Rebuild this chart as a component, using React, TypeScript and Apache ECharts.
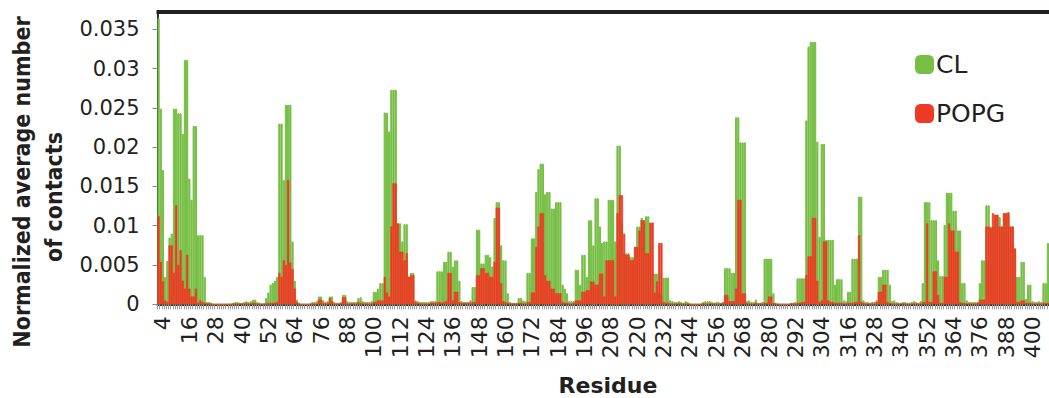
import React, { useEffect, useRef } from "react";
import * as echarts from "echarts";

// Residue numbering of the first bar
const firstResidue = 2;
// Tick labels: every 12th residue, starting at residue 4 (4, 16, ..., 400)
const labelStart = 4;
const labelStep = 12;
const yTicks = [0, 0.005, 0.01, 0.015, 0.02, 0.025, 0.03, 0.035];

// CL (green) normalized average number of contacts, residues 2..407
const clValues = [
  0.0364, 0.0249, 0.0171, 0.0035, 0.0055, 0.0085, 0.009, 0.0249, 0.0249, 0.0243,
  0.0243, 0.0217, 0.0311, 0.0311, 0.016, 0.0133, 0.0227, 0.0227, 0.0088, 0.0088,
  0.0088, 0.0035, 0.0003, 0.0003, 0.0002, 0, 0, 0, 0, 0,
  0, 0, 0, 0.0001, 0.0002, 0.0003, 0.0003, 0.0002, 0.0002, 0.0003,
  0.0004, 0.0003, 0.0004, 0.0006, 0.0006, 0.0003, 0.0002, 0.0001, 0.0002, 0.0008,
  0.0015, 0.0025, 0.0027, 0.003, 0.0035, 0.023, 0.023, 0.0158, 0.0254, 0.0254,
  0.0254, 0.008, 0.003, 0.0006, 0.0002, 0, 0, 0, 0, 0.0001,
  0.0003, 0.0003, 0.0004, 0.001, 0.001, 0.0005, 0.0003, 0.0004, 0.001, 0.001,
  0.0003, 0.0002, 0.0002, 0.0003, 0.0012, 0.0012, 0.0004, 0.0003, 0.0003, 0.0003,
  0.0003, 0.0008, 0.0009, 0.0004, 0.0003, 0.0003, 0.0003, 0.0004, 0.0016, 0.0016,
  0.002, 0.0027, 0.0027, 0.0244, 0.0244, 0.022, 0.0273, 0.0273, 0.0273, 0.0103,
  0.0103, 0.008, 0.0102, 0.0102, 0.0035, 0.004, 0.004, 0.0005, 0.0004, 0.0003,
  0.0003, 0.0003, 0.0003, 0.0003, 0.0004, 0.0004, 0.0004, 0.0042, 0.0042, 0.0042,
  0.0054, 0.0054, 0.0067, 0.0067, 0.0048, 0.0056, 0.0056, 0.003, 0.0004, 0.0003,
  0.0003, 0.0003, 0.0005, 0.0022, 0.0022, 0.0095, 0.0095, 0.0052, 0.0052, 0.0063,
  0.0063, 0.006, 0.0048, 0.011, 0.013, 0.013, 0.0075, 0.0056, 0.0056, 0.0014,
  0.0003, 0.0002, 0.0002, 0.0002, 0.0008, 0.0008, 0.0005, 0.0004, 0.004, 0.004,
  0.0084, 0.0084, 0.0143, 0.0172, 0.0179, 0.0179, 0.014, 0.0143, 0.0143, 0.0122,
  0.0122, 0.013, 0.013, 0.013, 0.0025, 0.002, 0.0014, 0.0004, 0.0004, 0.0004,
  0.0044, 0.0044, 0.0025, 0.0063, 0.0063, 0.0035, 0.0107, 0.0107, 0.0075, 0.0135,
  0.0135, 0.0099, 0.0078, 0.008, 0.008, 0.0133, 0.0133, 0.0133, 0.008, 0.0202,
  0.0202, 0.0103, 0.0065, 0.0065, 0.0065, 0.006, 0.006, 0.0073, 0.0099, 0.0099,
  0.011, 0.0105, 0.0112, 0.0112, 0.0103, 0.004, 0.0039, 0.0039, 0.0015, 0.0012,
  0.0034, 0.0034, 0.0034, 0.0005, 0.0004, 0.0003, 0.0003, 0.0004, 0.0003, 0.0002,
  0.0004, 0.0003, 0.0001, 0, 0, 0, 0, 0.0001, 0.0003, 0.0004,
  0.0004, 0.0004, 0.0003, 0.0002, 0.0003, 0.0003, 0.0002, 0.0003, 0.0046, 0.0046,
  0.0046, 0.004, 0.004, 0.0238, 0.0238, 0.0206, 0.0206, 0.0206, 0.0004, 0.0005,
  0.0003, 0.0003, 0.0006, 0.0002, 0.0002, 0.0003, 0.0058, 0.0058, 0.0058, 0.0058,
  0.0014, 0.0002, 0.0001, 0, 0, 0, 0, 0, 0.0002, 0.0002,
  0.0003, 0.0033, 0.0033, 0.0033, 0.0033, 0.0234, 0.0328, 0.0334, 0.0334, 0.0334,
  0.0207, 0.0086, 0.0204, 0.0204, 0.0082, 0.0082, 0.0082, 0.0082, 0.0025, 0.0032,
  0.0032, 0.0032, 0.0005, 0.0004, 0.0016, 0.0016, 0.0058, 0.0058, 0.0058, 0.0137,
  0.0137, 0.0005, 0.0003, 0.0003, 0.0002, 0.0003, 0.0003, 0.0005, 0.0035, 0.0035,
  0.0044, 0.0044, 0.0044, 0.0025, 0.0004, 0.0005, 0.0003, 0.0002, 0.0002, 0.0003,
  0.0003, 0.0002, 0.0002, 0.0003, 0.0004, 0.0003, 0.0002, 0.0004, 0.0027, 0.013,
  0.013, 0.013, 0.0107, 0.0107, 0.0107, 0.0056, 0.0036, 0.0036, 0.0101, 0.0142,
  0.0142, 0.0142, 0.0119, 0.0119, 0.0094, 0.0094, 0.0027, 0.0027, 0.0005, 0.0003,
  0.0003, 0.0003, 0.0003, 0.0003, 0.0027, 0.0056, 0.0056, 0.0126, 0.0126, 0.0099,
  0.0099, 0.0114, 0.0114, 0.0111, 0.0099, 0.0116, 0.0116, 0.0117, 0.0099, 0.0099,
  0.0071, 0.0035, 0.0035, 0.0054, 0.0054, 0.0007, 0.0025, 0.0025, 0.0004, 0.0003,
  0.0003, 0.0004, 0.0003, 0.0027, 0.0027, 0.0078,
];

// POPG (red) normalized average number of contacts, residues 2..407
const popgValues = [
  0.0112, 0.0054, 0.0029, 0.0005, 0.0003, 0.0075, 0.0075, 0.004, 0.0126, 0.005,
  0.0069, 0.003, 0.002, 0.0063, 0.002, 0.001, 0.001, 0.002, 0.0002, 0.0005,
  0.0003, 0.0002, 0.0001, 0.0001, 0.0001, 0, 0, 0, 0, 0,
  0, 0, 0, 0, 0.0001, 0.0001, 0.0001, 0.0001, 0.0001, 0.0001,
  0.0002, 0.0001, 0.0001, 0.0002, 0.0002, 0.0001, 0.0001, 0, 0, 0.0001,
  0.0002, 0.0002, 0.0002, 0.0002, 0.0003, 0.004, 0.0035, 0.0056, 0.005, 0.0158,
  0.0053, 0.0045, 0.002, 0.0003, 0.0001, 0, 0, 0, 0, 0,
  0.0001, 0.0001, 0.0001, 0.0006, 0.0006, 0.0002, 0.0001, 0.0002, 0.0008, 0.0004,
  0.0001, 0.0001, 0.0001, 0.0001, 0.0009, 0.0009, 0.0001, 0.0001, 0.0001, 0.0001,
  0.0001, 0.0003, 0.0002, 0.0001, 0.0001, 0.0001, 0.0001, 0.0001, 0.0003, 0.0003,
  0.0005, 0.0005, 0.0005, 0.0035, 0.0015, 0.001, 0.0099, 0.0154, 0.0154, 0.0103,
  0.0067, 0.0067, 0.0056, 0.0065, 0.0035, 0.0037, 0.0037, 0.0003, 0.0002, 0.0001,
  0.0001, 0.0001, 0.0001, 0.0001, 0.0002, 0.0002, 0.0002, 0.0003, 0.0003, 0.0002,
  0.0003, 0.0004, 0.004, 0.004, 0.0005, 0.0016, 0.0016, 0.0003, 0.0002, 0.0002,
  0.0002, 0.0002, 0.0002, 0.0003, 0.0003, 0.0037, 0.0037, 0.0046, 0.0046, 0.004,
  0.004, 0.0035, 0.0035, 0.0054, 0.0123, 0.0123, 0.0027, 0.0004, 0.0003, 0.0002,
  0.0001, 0.0001, 0.0001, 0.0001, 0.0002, 0.0002, 0.0001, 0.0001, 0.0003, 0.0003,
  0.0015, 0.0015, 0.0073, 0.0099, 0.0116, 0.0116, 0.0037, 0.003, 0.003, 0.002,
  0.002, 0.0014, 0.0014, 0.0014, 0.0003, 0.0002, 0.0002, 0.0001, 0.0001, 0.0002,
  0.0005, 0.0005, 0.0005, 0.0016, 0.0016, 0.0018, 0.0018, 0.0029, 0.0029, 0.0025,
  0.0025, 0.0039, 0.0039, 0.001, 0.0056, 0.0056, 0.0056, 0.0056, 0.001, 0.0116,
  0.0139, 0.0139, 0.009, 0.0063, 0.0063, 0.0056, 0.0056, 0.0073, 0.0073, 0.0094,
  0.0107, 0.0107, 0.0065, 0.0065, 0.0104, 0.0104, 0.0015, 0.0029, 0.0078, 0.0078,
  0.0003, 0.0002, 0.0002, 0.0001, 0.0001, 0.0001, 0.0001, 0.0001, 0.0001, 0.0001,
  0.0001, 0.0001, 0, 0, 0, 0, 0, 0, 0.0001, 0.0001,
  0.0001, 0.0001, 0.0001, 0.0001, 0.0001, 0.0001, 0.0001, 0.0002, 0.0012, 0.0012,
  0.0004, 0.0004, 0.0004, 0.002, 0.0133, 0.0133, 0.0014, 0.0014, 0.0002, 0.0001,
  0.0001, 0.0001, 0.0002, 0.0001, 0.0001, 0.0001, 0.0002, 0.0002, 0.001, 0.001,
  0.0002, 0.0001, 0, 0, 0, 0, 0, 0, 0.0001, 0.0001,
  0.0001, 0.0002, 0.0002, 0.0003, 0.0003, 0.0037, 0.0061, 0.0061, 0.011, 0.011,
  0.003, 0.0003, 0.0005, 0.008, 0.008, 0.0005, 0.0003, 0.0003, 0.0002, 0.0002,
  0.0002, 0.0002, 0.0001, 0.0001, 0.0002, 0.0002, 0.0002, 0.0003, 0.0003, 0.0088,
  0.0003, 0.0002, 0.0001, 0.0001, 0.0001, 0.0001, 0.0001, 0.0003, 0.0016, 0.0016,
  0.0025, 0.0025, 0.0003, 0.0002, 0.0001, 0.0001, 0.0001, 0.0001, 0.0001, 0.0001,
  0.0001, 0.0001, 0.0001, 0.0001, 0.0001, 0.0001, 0.0001, 0.0001, 0.0003, 0.0003,
  0.0103, 0.0003, 0.0003, 0.0042, 0.0042, 0.0012, 0.0002, 0.0002, 0.0035, 0.0035,
  0.0103, 0.0094, 0.0094, 0.0067, 0.0067, 0.0003, 0.0002, 0.0002, 0.0001, 0.0001,
  0.0001, 0.0001, 0.0001, 0.0002, 0.0006, 0.0006, 0.0006, 0.0099, 0.0099, 0.0097,
  0.0116, 0.0114, 0.0114, 0.0099, 0.0099, 0.0116, 0.0116, 0.0117, 0.0099, 0.0099,
  0.0071, 0.0003, 0.0003, 0.0005, 0.0005, 0.0002, 0.0002, 0.0002, 0.0001, 0.0001,
  0.0001, 0.0001, 0.0001, 0.0002, 0.0002, 0.0002,
];

const residues = clValues.map((_, i) => String(firstResidue + i));

const GREEN = "#76BE44";
const RED = "#EE3A24";
const INK = "#231F20";

export default function App() {
  const ref = useRef<HTMLDivElement>(null);

  useEffect(() => {
    if (!ref.current) return;
    const chart = echarts.init(ref.current, null, { renderer: "svg" });
    const plotLeft = 157.5;
    const plotTop = 12;
    const plotBottom = 304.3;
    const option: any = {
      animation: false,
      backgroundColor: "#ffffff",
      grid: {
        left: plotLeft,
        right: 0,
        top: plotTop,
        bottom: 398 - plotBottom,
        containLabel: false,
      },
      legend: {
        orient: "vertical",
        left: 910,
        top: 47,
        itemWidth: 17,
        itemHeight: 17,
        itemGap: 24,
        icon: "roundRect",
        data: ["CL", "POPG"],
        textStyle: {
          fontSize: 25,
          fontFamily: "DejaVu Sans",
          color: INK,
          padding: [0, 0, 0, -2],
        },
      },
      xAxis: {
        type: "category",
        data: residues,
        boundaryGap: true,
        axisLine: { show: true, lineStyle: { color: "#333", width: 2 } },
        axisTick: {
          show: true,
          interval: 0,
          length: 5,
          lineStyle: { color: "#9a9a9a", width: 1 },
        },
        axisLabel: {
          interval: (_i: number, v: string) =>
            (Number(v) - labelStart) % labelStep === 0,
          rotate: 90,
          fontSize: 22,
          fontFamily: "DejaVu Sans",
          color: INK,
          margin: 12,
        },
        splitLine: { show: false },
      },
      yAxis: {
        type: "value",
        min: yTicks[0],
        max: 0.0372,
        interval: yTicks[1] - yTicks[0],
        splitLine: { show: false },
        axisLine: { show: true, lineStyle: { color: "#333", width: 2 } },
        axisTick: { show: true, length: 5, lineStyle: { color: "#888" } },
        axisLabel: {
          fontSize: 21,
          fontFamily: "DejaVu Sans",
          color: INK,
          margin: 18,
          showMaxLabel: false,
          formatter: (v: number) => String(Number(v.toFixed(3))),
        },
      },
      graphic: [
        {
          type: "rect",
          shape: { x: plotLeft - 1, y: 10, width: 1049 - plotLeft + 1, height: 4 },
          style: { fill: INK },
          z: 100,
        },
        {
          type: "text",
          x: 22,
          y: 182,
          rotation: Math.PI / 2,
          style: {
            text: "Normalized average number",
            fontSize: 23,
            fontWeight: "bold",
            fontFamily: "'DejaVu Sans Condensed', 'DejaVu Sans', sans-serif",
            fill: INK,
            align: "center",
            verticalAlign: "middle",
          },
        },
        {
          type: "text",
          x: 54,
          y: 197,
          rotation: Math.PI / 2,
          style: {
            text: "of contacts",
            fontSize: 23,
            fontWeight: "bold",
            fontFamily: "'DejaVu Sans Condensed', 'DejaVu Sans', sans-serif",
            fill: INK,
            align: "center",
            verticalAlign: "middle",
          },
        },
        {
          type: "text",
          x: 608,
          y: 385,
          style: {
            text: "Residue",
            fontSize: 22,
            fontWeight: "bold",
            fontFamily: "DejaVu Sans",
            fill: INK,
            align: "center",
            verticalAlign: "middle",
          },
        },
      ],
      series: [
        {
          name: "CL",
          type: "bar",
          data: clValues,
          barGap: "-100%",
          barCategoryGap: "0%",
          itemStyle: { color: GREEN, borderColor: GREEN, borderWidth: 1 },
        },
        {
          name: "POPG",
          type: "bar",
          data: popgValues,
          barGap: "-100%",
          barCategoryGap: "0%",
          itemStyle: { color: RED, borderColor: RED, borderWidth: 0.6 },
        },
      ],
    };
    chart.setOption(option);
    return () => chart.dispose();
  }, []);

  return (
    <div
      ref={ref}
      style={{ position: "fixed", left: 0, top: 0, width: 1049, height: 398 }}
    />
  );
}
